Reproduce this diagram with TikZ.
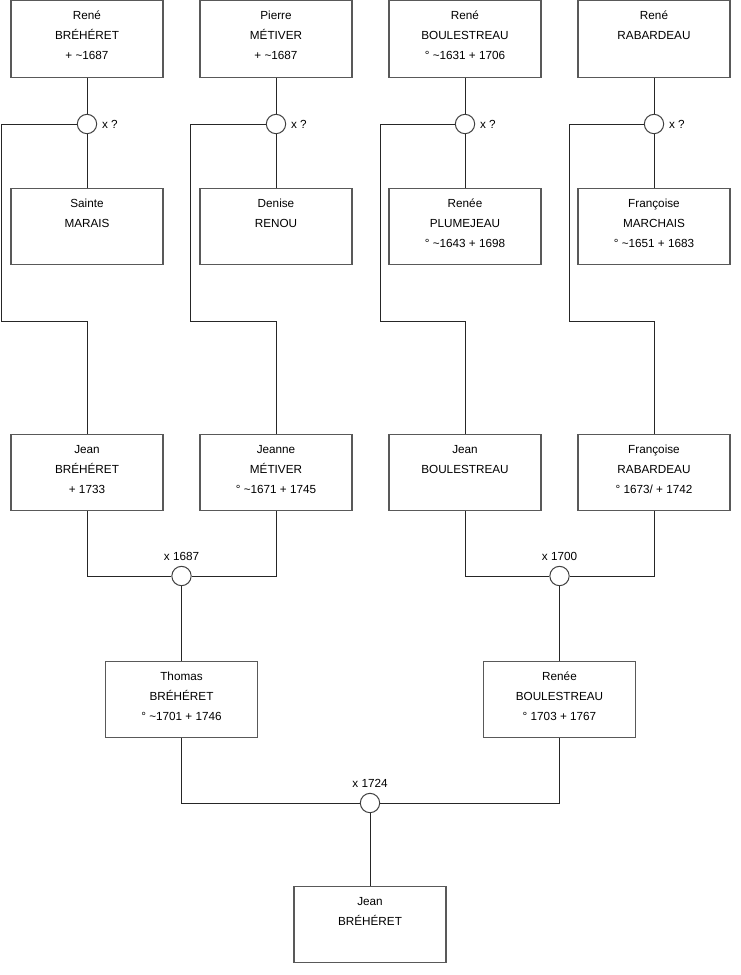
\documentclass[tikz,border=0pt]{standalone}
\usepackage{fontspec}
\setmainfont{Liberation Sans}
\newcommand\pbox[4]{\node[person] (#1) at (#2,#3) {}; \node[ptext] at ([yshift=2.6pt]#1.center) {#4};}
\begin{document}
\begin{tikzpicture}[x=0.75pt,y=-0.75pt,
 person/.style={draw=black!65, line width=0.85pt, rectangle, minimum width=114pt, minimum height=57.5pt, inner sep=0pt},
 ptext/.style={align=center, font=\fontsize{8.8}{15}\selectfont, inner sep=0pt},
 mar/.style={draw=black!75, circle, minimum size=14.5pt, inner sep=0pt, fill=white, line width=0.75pt},
 link/.style={draw=black!85, line width=0.75pt},
 lbl/.style={font=\fontsize{8.8}{11}\selectfont, inner sep=0pt}]
\useasboundingbox (0,0) rectangle (740,975);

% top row
\pbox{f1}{87}{39}{René\\BRÉHÉRET\\+ \textasciitilde1687}
\pbox{f2}{276}{39}{Pierre\\MÉTIVER\\+ \textasciitilde1687}
\pbox{f3}{465}{39}{René\\BOULESTREAU\\° \textasciitilde1631 + 1706}
\pbox{f4}{654}{39}{René\\RABARDEAU\\\mbox{}}
% wives
\pbox{w1}{87}{226.5}{Sainte\\MARAIS\\\mbox{}}
\pbox{w2}{276}{226.5}{Denise\\RENOU\\\mbox{}}
\pbox{w3}{465}{226.5}{Renée\\PLUMEJEAU\\° \textasciitilde1643 + 1698}
\pbox{w4}{654}{226.5}{Françoise\\MARCHAIS\\° \textasciitilde1651 + 1683}
% children
\pbox{s1}{87}{472.5}{Jean\\BRÉHÉRET\\+ 1733}
\pbox{s2}{276}{472.5}{Jeanne\\MÉTIVER\\° \textasciitilde1671 + 1745}
\pbox{s3}{465}{472.5}{Jean\\BOULESTREAU\\\mbox{}}
\pbox{s4}{654}{472.5}{Françoise\\RABARDEAU\\° 1673/ + 1742}
% grandchildren
\pbox{t1}{181.5}{699.5}{Thomas\\BRÉHÉRET\\° \textasciitilde1701 + 1746}
\pbox{t2}{559.5}{699.5}{Renée\\BOULESTREAU\\° 1703 + 1767}
% bottom
\pbox{j}{370}{924.5}{Jean\\BRÉHÉRET\\\mbox{}}

% marriage circles, first generation
\foreach \i/\x/\l in {1/87/1, 2/276/190, 3/465/380, 4/654/569}{
  \node[mar] (c\i) at (\x,124) {};
  \node[lbl, anchor=west] (xl\i) at ([xshift=3.5pt]c\i.east) {x ?};
  \coordinate (k\i a) at (\l,124);
  \coordinate (k\i b) at (\l,321);
  \coordinate (k\i c) at (\x,321);
  \draw[link] (f\i.south) -- (c\i.north);
  \draw[link] (c\i.south) -- (w\i.north);
  \draw[link] (c\i.west) -- (k\i a) -- (k\i b) -- (k\i c) -- (s\i.north);
}

% second generation
\node[mar] (m1) at (181.5,576) {};
\node[mar] (m2) at (559.5,576) {};
\node[lbl, anchor=south] (ml1) at ([yshift=3.5pt]m1.north) {x 1687};
\node[lbl, anchor=south] (ml2) at ([yshift=3.5pt]m2.north) {x 1700};
\draw[link] (s1.south) |- (m1.west);
\draw[link] (s2.south) |- (m1.east);
\draw[link] (s3.south) |- (m2.west);
\draw[link] (s4.south) |- (m2.east);
\draw[link] (m1.south) -- (t1.north);
\draw[link] (m2.south) -- (t2.north);

% third generation
\node[mar] (m3) at (370,803) {};
\node[lbl, anchor=south] (ml3) at ([yshift=3.5pt]m3.north) {x 1724};
\draw[link] (t1.south) |- (m3.west);
\draw[link] (t2.south) |- (m3.east);
\draw[link] (m3.south) -- (j.north);
\end{tikzpicture}
\end{document}
